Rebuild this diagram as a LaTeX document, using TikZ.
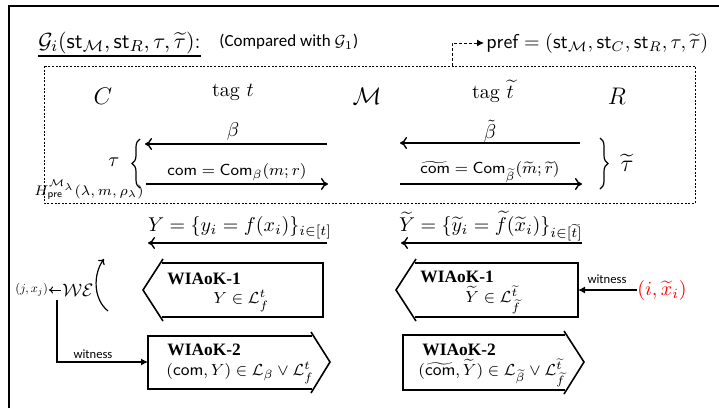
\documentclass[tikz,border=0pt]{standalone}
\usepackage{amsmath,amssymb}
\usepackage{graphicx}
\usepackage{fontspec}
\newfontfamily\carlito{Carlito}
\newfontfamily\tbf{Liberation Serif}
\usetikzlibrary{arrows.meta,decorations.pathreplacing}
\begin{document}
\begin{tikzpicture}[x=0.5pt,y=-0.5pt,
  arr/.style={-{To[length=3.5pt,width=6pt]}, line width=0.7pt},
  smallarr/.style={-{Latex[length=3.5pt,width=3.5pt]}, line width=0.55pt},
  boxline/.style={line width=0.8pt, line join=miter},
  bracestyle/.style={decorate, decoration={brace,amplitude=4pt}, line width=0.6pt},
  wiatitle/.style={anchor=west, inner sep=0pt, font=\tbf\bfseries\fontsize{8.7}{10}\selectfont},
  wiaform/.style={anchor=west, inner sep=0pt, font=\fontsize{8.5}{10}\selectfont},
  wit/.style={inner sep=0pt, font=\carlito\fontsize{6.3}{7}\selectfont},
  lbl/.style={inner sep=0pt}]
\useasboundingbox (0,0) rectangle (719,408);
% outer frame
\draw[line width=0.8pt] (9,408) -- (9,6) -- (719,6);

% title
\node[anchor=west, inner sep=0pt] (title) at (38,43) {\fontsize{11}{13}\selectfont $\mathcal{G}_i(\mathsf{st}_{\mathcal{M}},\mathsf{st}_R,\tau,\widetilde{\tau})$:};
\draw[line width=1.2pt] (title.west |- 0,56) -- (title.east |- 0,56);
\node[anchor=west, inner sep=0pt] (cmp) at (219,42) {\carlito\fontsize{8.5}{10}\selectfont (Compared with $\mathcal{G}_1$)};

% pref
\node[anchor=west, inner sep=1pt] (pref) at (484,43) {$\mathsf{pref}=(\mathsf{st}_{\mathcal{M}},\mathsf{st}_C,\mathsf{st}_R,\tau,\widetilde{\tau})$};
\coordinate (boxtop) at (452,66);
\draw[dash pattern=on 1.5pt off 1pt, line width=0.5pt, -{Latex[length=3.5pt,width=3.5pt]}] (boxtop) |- (pref.west);

% dashed box
\draw[dash pattern=on 1pt off 0.8pt, line width=0.5pt] (44,66) rectangle (695,203);

% parties
\node[lbl] (C) at (103,96) {\large $C$};
\node[lbl] (tagt) at (233,92) {$\mathrm{tag}\ t$};
\node[lbl] (M) at (367,96) {\large $\mathcal{M}$};
\node[lbl] (tagtt) at (493,91) {$\mathrm{tag}\ \widetilde{t}$};
\node[lbl] (R) at (617,96) {\large $R$};

% left session
\coordinate (b1s) at (327,144); \coordinate (b1e) at (145,144);
\draw[arr] (b1s) -- (b1e);
\node[lbl] (beta) at (233,131) {$\beta$};
\coordinate (c1s) at (146,184); \coordinate (c1e) at (328,184);
\draw[arr] (c1s) -- (c1e);
\node[lbl] (com) at (237,172) {\footnotesize $\mathsf{com}=\mathsf{Com}_{\beta}(m;r)$};
\coordinate (brL1) at (140,188); \coordinate (brL2) at (140,139);
\draw[bracestyle] (brL1) -- (brL2);
\node[lbl] (tau) at (114,162) {$\tau$};
\node[lbl] (H) at (89,190) {\fontsize{7.5}{8}\selectfont $H^{\mathcal{M}_\lambda}_{\mathsf{pre}}(\lambda,m,\rho_\lambda)$};

% right session
\coordinate (b2s) at (580,143); \coordinate (b2e) at (400,143);
\draw[arr] (b2s) -- (b2e);
\node[lbl] (betat) at (490,131) {$\tilde{\beta}$};
\coordinate (c2s) at (400,184); \coordinate (c2e) at (582,184);
\draw[arr] (c2s) -- (c2e);
\node[lbl] (comt) at (490,172) {\footnotesize $\widetilde{\mathsf{com}}=\mathsf{Com}_{\widetilde{\beta}}(\widetilde{m};\widetilde{r})$};
\coordinate (brR1) at (600,138); \coordinate (brR2) at (600,189);
\draw[bracestyle] (brR1) -- (brR2);
\node[lbl] (taut) at (627,163) {\large $\widetilde{\tau}$};

% Y messages
\coordinate (y1s) at (327,243); \coordinate (y1e) at (148,243);
\draw[arr] (y1s) -- (y1e);
\node[lbl] (Y) at (240,228) {$Y=\{y_i=f(x_i)\}_{i\in[t]}$};
\coordinate (y2s) at (582,243); \coordinate (y2e) at (401,243);
\draw[arr] (y2s) -- (y2e);
\node[lbl] (Yt) at (491,226) {$\widetilde{Y}=\{\widetilde{y}_i=\widetilde{f}(\widetilde{x}_i)\}_{i\in[\widetilde{t}]}$};

% WIAoK-1 left
\draw[boxline] (162,263) -- (323,263) -- (323,317) -- (162,317);
\draw[boxline] (163,259) -- (143,290) -- (163,321);
\node[wiatitle] (w1l) at (167,279) {WIAoK-1};
\node[wiaform] (w1lf) at (213,301) {$Y\in\mathcal{L}^t_f$};

% WIAoK-1 right
\draw[boxline] (415,263) -- (578,263) -- (578,317) -- (415,317);
\draw[boxline] (416,259) -- (396,290) -- (416,321);
\node[wiatitle] (w1r) at (420,277) {WIAoK-1};
\node[wiaform] (w1rf) at (465,300) {$\widetilde{Y}\in\mathcal{L}^{\widetilde{t}}_{\widetilde{f}}$};
\coordinate (w1rin) at (578,290);

% WIAoK-2 left
\draw[boxline] (312,336) -- (148,336) -- (148,389) -- (312,389);
\draw[boxline] (311,332) -- (330,362) -- (311,393);
\node[wiatitle] (w2l) at (167,350) {WIAoK-2};
\node[wiaform] (w2lf) at (166,373) {$(\mathsf{com},Y)\in\mathcal{L}_\beta\vee\mathcal{L}^t_f$};
\coordinate (w2lin) at (148,362);

% WIAoK-2 right
\draw[boxline] (565,335) -- (403,335) -- (403,390) -- (565,390);
\draw[boxline] (564,331) -- (584,362) -- (564,394);
\node[wiatitle] (w2r) at (422,350) {WIAoK-2};
\node[wiaform] (w2rf) at (418,373) {$(\widetilde{\mathsf{com}},\widetilde{Y})\in\mathcal{L}_{\widetilde{\beta}}\vee\mathcal{L}^{\widetilde{t}}_{\widetilde{f}}$};

% right witness
\node[lbl, text=red] (ixi) at (662,290) {$(i,\widetilde{x}_i)$};
\draw[smallarr] (ixi.west) -- (w1rin);
\node[wit] (witr) at (607,279) {witness};

% left extraction
\node[anchor=east, inner sep=0.3pt] (jx) at (49,290) {\scalebox{0.62}{$(j,x_j)$}};
\node[anchor=west, inner sep=0.5pt] (we) at (61,290) {\fontsize{9}{10}\selectfont $\mathcal{W}\mathcal{E}$};
\draw[-{To[length=2pt,width=3.5pt]}, line width=0.5pt] (we.west) -- (jx.east);
\coordinate (arcA) at (108,311); \coordinate (arcB) at (104,259);
\draw[-{To[length=2.5pt,width=4pt]}, line width=0.6pt] (arcA) .. controls (93,299) and (93,274) .. (arcB);
\coordinate (wl) at (57,300);
\draw[smallarr] (wl) |- (w2lin);
\node[wit] (witl) at (93,354) {witness};
\end{tikzpicture}
\end{document}
